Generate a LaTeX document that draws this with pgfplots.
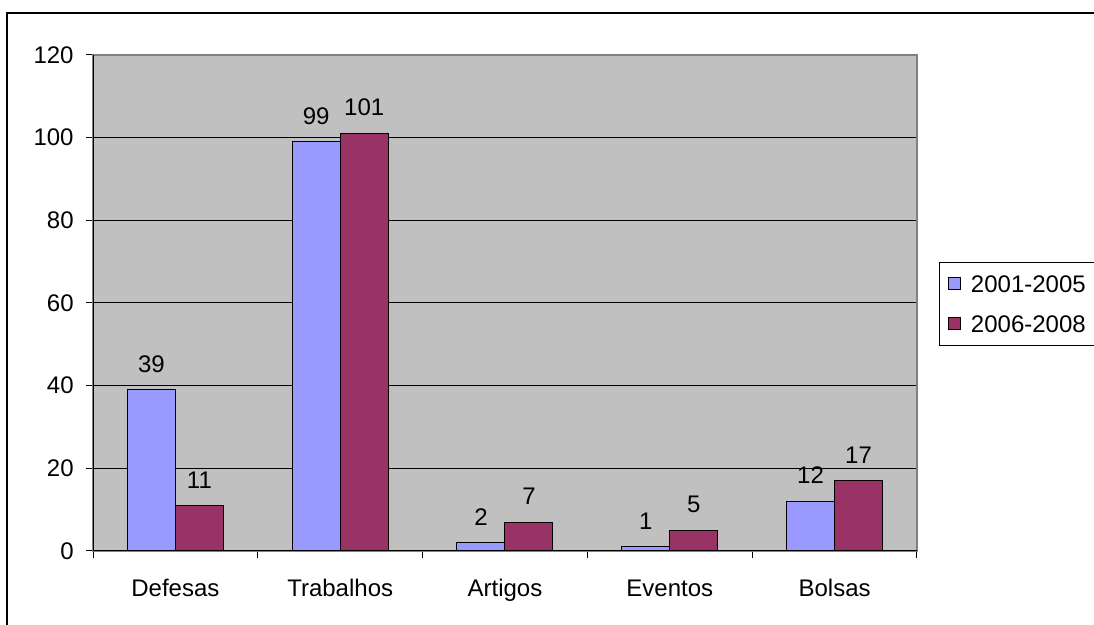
\documentclass[border=0pt]{standalone}
\usepackage{pgfplots}
\pgfplotsset{compat=1.18}
\usepackage{fontspec}
\setmainfont{Liberation Sans}
\definecolor{cblue}{HTML}{9999FF}
\definecolor{cred}{HTML}{993366}
\definecolor{pgray}{HTML}{C0C0C0}
\definecolor{bgray}{HTML}{808080}
\begin{document}
\begin{tikzpicture}
\fontsize{12}{14}\selectfont
\useasboundingbox (0pt,0pt) rectangle (547pt,312.5pt);
\draw[line width=1.3pt] (3.5pt,-10pt) -- (3.5pt,306pt) -- (560pt,306pt);
\begin{axis}[
  at={(46.5pt,37pt)}, anchor=south west,
  scale only axis, width=412pt, height=248pt,
  /pgf/number format/assume math mode=true,
  font=\fontsize{12}{14}\selectfont,
  ymin=0, ymax=120, ytick={0,20,...,120},
  xmin=-0.5, xmax=4.5,
  xtick={0,...,4},
  xticklabels={Defesas,Trabalhos,Artigos,Eventos,Bolsas},
  minor xtick={-0.5,0.5,...,4.5},
  xtick pos=bottom, ytick pos=left,
  major x tick style={draw=none},
  tick style={black, line width=0.5pt},
  tick align=outside,
  major tick length=3.5pt, minor tick length=3.5pt,
  xticklabel style={yshift=-6pt, text height=9pt, text depth=2.6pt},
  yticklabel style={xshift=-2pt},
  axis background/.style={fill=pgray},
  axis line style={draw=bgray, line width=1pt},
  ymajorgrids, major grid style={black, line width=0.5pt},
  ybar=0pt, bar width=24pt,
  nodes near coords,
  every node near coord/.append style={yshift=4.5pt, black, font=\fontsize{12}{14}\selectfont},
  legend style={at={(1.0267,0.5827)}, anchor=north west, draw=black, line width=0.5pt,
    fill=white, font=\fontsize{12}{14}\selectfont, row sep=11.4pt, inner xsep=4.5pt, inner ysep=6.4pt,
    nodes={inner xsep=0pt, inner ysep=0pt, text height=8.6pt, text depth=0pt}},
  legend cell align=left,
  legend image code/.code={\draw[#1,draw=black,line width=0.5pt] (0pt,-3pt) rectangle (6pt,3pt);
    \path[draw=none,fill=none] (0pt,0pt) -- (11pt,0pt);},
]
\addplot[fill=cblue, draw=black, line width=0.5pt] coordinates {(0,39) (1,99) (2,2) (3,1) (4,12)};
\addplot[fill=cred, draw=black, line width=0.5pt] coordinates {(0,11) (1,101) (2,7) (3,5) (4,17)};
\legend{2001-2005,2006-2008}
\draw[black, line width=0.6pt] (rel axis cs:0,1) -- (rel axis cs:0,0) -- (rel axis cs:1,0);
\end{axis}
\end{tikzpicture}
\end{document}
